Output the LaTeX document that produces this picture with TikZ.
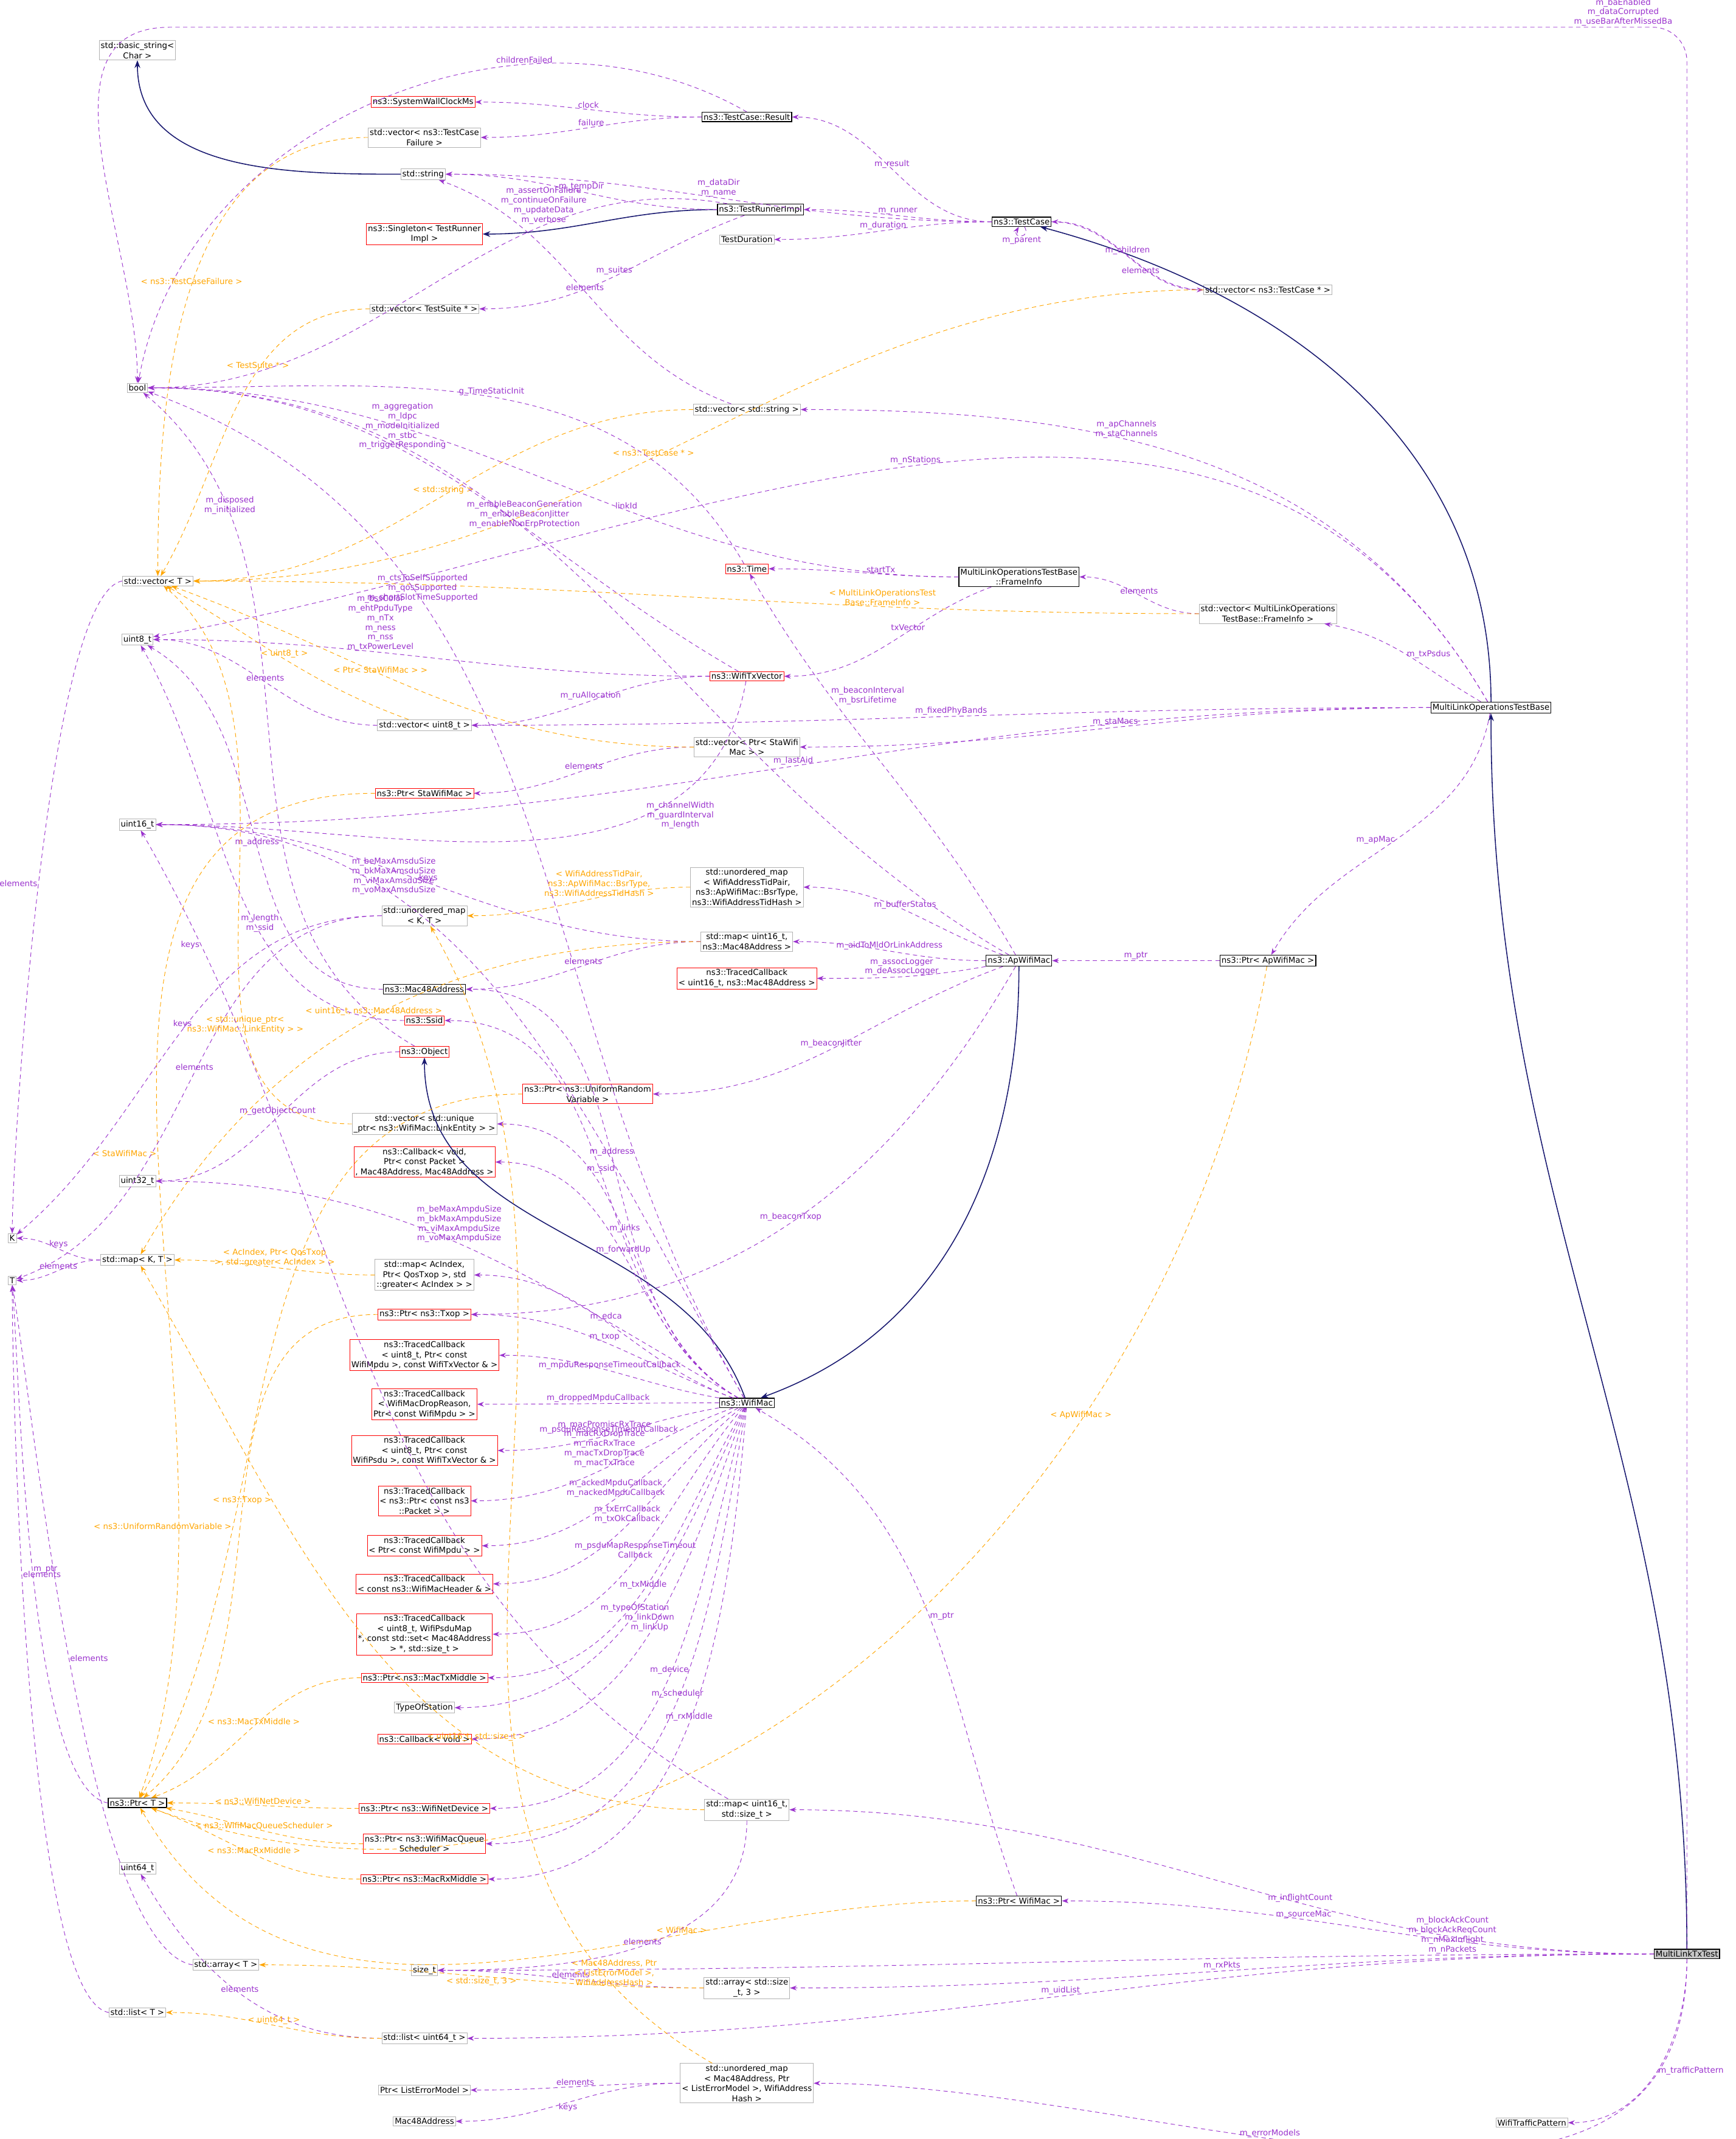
\documentclass[tikz,border=0pt]{standalone}
\usepackage{fontspec}
\setmainfont{DejaVu Sans}
\usetikzlibrary{arrows.meta}
\definecolor{mp}{HTML}{9A32CD}
\definecolor{og}{HTML}{FFA500}
\definecolor{nb}{HTML}{191970}
\begin{document}
\begin{tikzpicture}[x=0.01cm,y=-0.01cm,
 bx/.style={rectangle,draw,align=center,inner sep=0.32pt,line width=0.1pt,font=\fontsize{1.7}{2.1}\selectfont,fill=white},
 gbox/.style={bx,draw=gray!60},
 rbox/.style={bx,draw=red},
 kbox/.style={bx,draw=black,line width=0.16pt},
 lbl/.style={font=\fontsize{1.7}{2.0}\selectfont,align=center,inner sep=0.2pt},
 mem/.style={mp,line width=0.12pt,dash pattern=on 0.9pt off 0.7pt,-{Stealth[length=1.4pt,width=1pt]}},
 tmpl/.style={og,line width=0.12pt,dash pattern=on 0.9pt off 0.7pt,-{Stealth[length=1.4pt,width=1pt]}},
 inh/.style={nb,line width=0.2pt,-{Stealth[length=1.6pt,width=1.2pt]}}]
\useasboundingbox (0,0) rectangle (1276,1572);
% nodes
\node[gbox] (bstr) at (101,37) {std::basic\_string<\\ Char >};
\node[rbox] (swc) at (311,75) {ns3::SystemWallClockMs};
\node[gbox] (vtcf) at (312,101) {std::vector< ns3::TestCase\\ Failure >};
\node[kbox] (res) at (549,86) {ns3::TestCase::Result};
\node[gbox] (str) at (311,128) {std::string};
\node[kbox] (tri) at (559,154) {ns3::TestRunnerImpl};
\node[kbox] (tc) at (751,163) {ns3::TestCase};
\node[rbox] (sing) at (312,172) {ns3::Singleton< TestRunner\\ Impl >};
\node[gbox] (tdur) at (549,176) {TestDuration};
\node[gbox] (vtc) at (932,213) {std::vector< ns3::TestCase * >};
\node[gbox] (vts) at (312,227) {std::vector< TestSuite * >};
\node[gbox] (bool) at (101,285) {bool};
\node[gbox] (vstr) at (549,301) {std::vector< std::string >};
\node[gbox] (vT) at (116,427) {std::vector< T >};
\node[rbox] (time) at (549,418) {ns3::Time};
\node[kbox] (fi) at (749,424) {MultiLinkOperationsTestBase\\ ::FrameInfo};
\node[gbox] (vfi) at (932,451) {std::vector< MultiLinkOperations\\ TestBase::FrameInfo >};
\node[gbox] (u8) at (101,470) {uint8\_t};
\node[rbox] (txv) at (549,497) {ns3::WifiTxVector};
\node[gbox] (vu8) at (312,533) {std::vector< uint8\_t >};
\node[kbox] (mlo) at (1096,520) {MultiLinkOperationsTestBase};
\node[gbox] (vsta) at (549,549) {std::vector< Ptr< StaWifi\\ Mac > >};
\node[rbox] (psta) at (312,583) {ns3::Ptr< StaWifiMac >};
\node[gbox] (u16) at (101,606) {uint16\_t};
\node[gbox] (umbsr) at (549,652) {std::unordered\_map\\ < WifiAddressTidPair,\\ ns3::ApWifiMac::BsrType,\\ ns3::WifiAddressTidHash >};
\node[gbox] (umKT) at (312,673) {std::unordered\_map\\ < K, T >};
\node[gbox] (mu16m) at (549,692) {std::map< uint16\_t,\\ ns3::Mac48Address >};
\node[kbox] (ap) at (749,706) {ns3::ApWifiMac};
\node[kbox] (pap) at (932,706) {ns3::Ptr< ApWifiMac >};
\node[rbox] (tcb16) at (549,719) {ns3::TracedCallback\\ < uint16\_t, ns3::Mac48Address >};
\node[kbox] (mac) at (312,727) {ns3::Mac48Address};
\node[rbox] (ssid) at (312,750) {ns3::Ssid};
\node[rbox] (obj) at (312,773) {ns3::Object};
\node[rbox] (urv) at (432,804) {ns3::Ptr< ns3::UniformRandom\\ Variable >};
\node[gbox] (vle) at (312,826) {std::vector< std::unique\\ \_ptr< ns3::WifiMac::LinkEntity > >};
\node[rbox] (cbfu) at (312,854) {ns3::Callback< void,\\ Ptr< const Packet >\\ , Mac48Address, Mac48Address >};
\node[gbox] (u32) at (101,868) {uint32\_t};
\node[gbox] (K) at (9,910) {K};
\node[gbox] (T) at (9,941) {T};
\node[gbox] (mKT) at (101,926) {std::map< K, T >};
\node[gbox] (medca) at (312,937) {std::map< AcIndex,\\ Ptr< QosTxop >, std\\ ::greater< AcIndex > >};
\node[rbox] (ptxop) at (312,966) {ns3::Ptr< ns3::Txop >};
\node[rbox] (tc1) at (312,996) {ns3::TracedCallback\\ < uint8\_t, Ptr< const\\ WifiMpdu >, const WifiTxVector \& >};
\node[kbox] (wm) at (549,1031) {ns3::WifiMac};
\node[rbox] (tc2) at (312,1032) {ns3::TracedCallback\\ < WifiMacDropReason,\\ Ptr< const WifiMpdu > >};
\node[rbox] (tc3) at (312,1066) {ns3::TracedCallback\\ < uint8\_t, Ptr< const\\ WifiPsdu >, const WifiTxVector \& >};
\node[rbox] (tc4) at (312,1103) {ns3::TracedCallback\\ < ns3::Ptr< const ns3\\ ::Packet > >};
\node[rbox] (tc5) at (312,1136) {ns3::TracedCallback\\ < Ptr< const WifiMpdu > >};
\node[rbox] (tc6) at (312,1164) {ns3::TracedCallback\\ < const ns3::WifiMacHeader \& >};
\node[rbox] (tc7) at (312,1201) {ns3::TracedCallback\\ < uint8\_t, WifiPsduMap\\ *, const std::set< Mac48Address\\ > *, std::size\_t >};
\node[rbox] (ptxm) at (312,1233) {ns3::Ptr< ns3::MacTxMiddle >};
\node[gbox] (tos) at (312,1255) {TypeOfStation};
\node[rbox] (cbv) at (312,1278) {ns3::Callback< void >};
\node[kbox] (pT) at (101,1325) {ns3::Ptr< T >};
\node[rbox] (pdev) at (312,1329) {ns3::Ptr< ns3::WifiNetDevice >};
\node[gbox] (mu16s) at (549,1330) {std::map< uint16\_t,\\ std::size\_t >};
\node[rbox] (psch) at (312,1355) {ns3::Ptr< ns3::WifiMacQueue\\ Scheduler >};
\node[gbox] (u64) at (101,1373) {uint64\_t};
\node[rbox] (prxm) at (312,1381) {ns3::Ptr< ns3::MacRxMiddle >};
\node[kbox] (pwm) at (749,1397) {ns3::Ptr< WifiMac >};
\node[gbox] (arT) at (166,1444) {std::array< T >};
\node[gbox] (sz) at (312,1448) {size\_t};
\node[gbox] (ar3) at (549,1461) {std::array< std::size\\ \_t, 3 >};
\node[gbox] (lT) at (101,1479) {std::list< T >};
\node[gbox] (lu64) at (312,1498) {std::list< uint64\_t >};
\node[kbox,fill=gray!45] (mtx) at (1240,1436) {MultiLinkTxTest};
\node[gbox] (umerr) at (549,1531) {std::unordered\_map\\ < Mac48Address, Ptr\\ < ListErrorModel >, WifiAddress\\ Hash >};
\node[gbox] (wtp) at (1126,1560) {WifiTrafficPattern};
\node[gbox] (ple) at (312,1536) {Ptr< ListErrorModel >};
\node[gbox] (m48) at (312,1559) {Mac48Address};
% inheritance
\draw[inh] (mtx) to[out=90,in=-90] (mlo);
\draw[inh] (mlo) to[out=90,in=-15] (tc);
\draw[inh] (ap) to[out=-90,in=20] (wm);
\draw[inh] (wm) to[out=110,in=-90] (obj);
\draw[inh] (str) to[out=180,in=-90] (bstr);
\draw[inh] (tri) to[out=180,in=0] (sing);
% MultiLinkTxTest
\coordinate (topR) at (1215,20);
\coordinate (topL) at (125,20);
\coordinate (upR) at (1240,45);
\draw[mem] (mtx.north) -- (upR) to[out=90,in=0] (topR) -- node[lbl,above,pos=0.02]{m\_baEnabled\\m\_dataCorrupted\\m\_useBarAfterMissedBa} (topL) to[out=180,in=90] (bool);
\draw[mem] (mtx) to[out=180,in=0] node[lbl,above,pos=0.4]{m\_inflightCount} (mu16s);
\draw[mem] (mtx) to[out=180,in=0] node[lbl,above,pos=0.6]{m\_sourceMac} (pwm);
\draw[mem] (mtx) to[out=180,in=0] node[lbl,above,pos=0.15]{m\_blockAckCount\\m\_blockAckReqCount\\m\_nMaxInflight\\m\_nPackets} (sz);
\draw[mem] (mtx) to[out=180,in=0] node[lbl,above,pos=0.5]{m\_rxPkts} (ar3);
\draw[mem] (mtx) to[out=180,in=0] node[lbl,above,pos=0.5]{m\_uidList} (lu64);
\draw[mem] (mtx) to[out=-90,in=0] node[lbl,above,pos=0.6]{m\_errorModels} (umerr);
\draw[mem] (mtx) to[out=-90,in=0] node[lbl,right,pos=0.5]{m\_trafficPattern} (wtp);
% MLOTB
\draw[mem] (mlo) to[out=120,in=0] node[lbl,above,pos=0.6]{m\_apChannels\\m\_staChannels} (vstr);
\draw[mem] (mlo) to[out=120,in=10] node[lbl,above,pos=0.5]{m\_nStations} (u8);
\draw[mem] (mlo) to[out=150,in=-10] node[lbl,right,pos=0.5]{m\_txPsdus} (vfi);
\draw[mem] (mlo) to[out=180,in=0] node[lbl,above,pos=0.5]{m\_fixedPhyBands} (vu8);
\draw[mem] (mlo) to[out=180,in=0] node[lbl,above,pos=0.5]{m\_staMacs} (vsta);
\draw[mem] (mlo) to[out=180,in=0] node[lbl,above,pos=0.5]{m\_lastAid} (u16);
\draw[mem] (mlo) to[out=-100,in=60] node[lbl,left,pos=0.5]{m\_apMac} (pap);
% FrameInfo
\draw[mem] (fi) to[out=180,in=0] node[lbl,above,pos=0.4]{startTx} (time);
\draw[mem] (fi) to[out=200,in=0] node[lbl,above,pos=0.4]{txVector} (txv);
\draw[mem] (fi) to[out=180,in=0] node[lbl,above,pos=0.4]{linkId} (bool);
\draw[mem] (vfi) to[out=180,in=0] node[lbl,above,pos=0.5]{elements} (fi);
\draw[tmpl] (vfi) to[out=180,in=0] node[lbl,above,pos=0.3]{< MultiLinkOperationsTest\\Base::FrameInfo >} (vT);
% TestCase
\draw[mem] (tc) to[out=180,in=0] node[lbl,above,pos=0.5]{m\_result} (res);
\draw[mem] (tc) to[out=180,in=0] node[lbl,above,pos=0.5]{m\_dataDir\\m\_name} (str);
\draw[mem] (tc) to[out=-60,in=-120,looseness=6] node[lbl,below,pos=0.5]{m\_parent} (tc);
\draw[mem] (tc) to[out=180,in=0] node[lbl,above,pos=0.5]{m\_runner} (tri);
\draw[mem] (tc) to[out=180,in=0] node[lbl,above,pos=0.5]{m\_duration} (tdur);
\draw[mem] (tc) to[out=0,in=180] node[lbl,above,pos=0.5]{m\_children} (vtc);
\draw[mem] (vtc) to[out=180,in=0] node[lbl,below,pos=0.4]{elements} (tc);
\draw[tmpl] (vtc) to[out=180,in=0] node[lbl,above,pos=0.55]{< ns3::TestCase * >} (vT);
\draw[mem] (res) to[out=180,in=0] node[lbl,above,pos=0.5]{clock} (swc);
\draw[mem] (res) to[out=180,in=0] node[lbl,above,pos=0.5]{failure} (vtcf);
\draw[mem] (res.north) to[out=150,in=80] node[lbl,above,pos=0.3]{childrenFailed} (bool);
\draw[mem] (tri) to[out=180,in=0] node[lbl,above,pos=0.5]{m\_tempDir} (str);
\draw[mem] (tri) to[out=170,in=0] node[lbl,above,pos=0.3]{m\_assertOnFailure\\m\_continueOnFailure\\m\_updateData\\m\_verbose} (bool);
\draw[mem] (tri) to[out=200,in=0] node[lbl,above,pos=0.5]{m\_suites} (vts);
\draw[tmpl] (vtcf) to[out=180,in=90] node[lbl,above,pos=0.5]{< ns3::TestCaseFailure >} (vT);
\draw[tmpl] (vts) to[out=180,in=60] node[lbl,above,pos=0.4]{< TestSuite * >} (vT);
\draw[mem] (vstr) to[out=160,in=-20] node[lbl,above,pos=0.5]{elements} (str);
\draw[tmpl] (vstr) to[out=180,in=0] node[lbl,above,pos=0.5]{< std::string >} (vT);
\draw[mem] (time) to[out=120,in=0] node[lbl,above,pos=0.5]{g\_TimeStaticInit} (bool);
% WifiTxVector
\draw[mem] (txv) to[out=180,in=0] node[lbl,above,pos=0.6]{m\_bssColor\\m\_ehtPpduType\\m\_nTx\\m\_ness\\m\_nss\\m\_txPowerLevel} (u8);
\draw[mem] (txv) to[out=150,in=0] node[lbl,above,pos=0.6]{m\_aggregation\\m\_ldpc\\m\_modeInitialized\\m\_stbc\\m\_triggerResponding} (bool);
\draw[mem] (txv) to[out=180,in=0] node[lbl,above,pos=0.5]{m\_ruAllocation} (vu8);
\draw[mem] (txv) to[out=-100,in=0] node[lbl,right,pos=0.3]{m\_channelWidth\\m\_guardInterval\\m\_length} (u16);
\draw[mem] (vu8) to[out=180,in=0] node[lbl,above,pos=0.5]{elements} (u8);
\draw[tmpl] (vu8) to[out=160,in=-30] node[lbl,above,pos=0.5]{< uint8\_t >} (vT);
\draw[mem] (vsta) to[out=180,in=0] node[lbl,above,pos=0.5]{elements} (psta);
\draw[tmpl] (vsta) to[out=180,in=-20] node[lbl,above,pos=0.6]{< Ptr< StaWifiMac > >} (vT);
\draw[tmpl] (psta) to[out=180,in=70] node[lbl,left,pos=0.5]{< StaWifiMac >} (pT);
\draw[mem] (umKT) to[out=180,in=40] node[lbl,above,pos=0.5]{keys} (K);
\draw[mem] (umKT) to[out=180,in=20] node[lbl,above,pos=0.5]{elements} (T);
\draw[tmpl] (umbsr) to[out=180,in=0] node[lbl,above,pos=0.4]{< WifiAddressTidPair,\\ns3::ApWifiMac::BsrType,\\ns3::WifiAddressTidHash >} (umKT);
\draw[mem] (mu16m) to[out=180,in=0] node[lbl,above,pos=0.5]{keys} (u16);
\draw[mem] (mu16m) to[out=180,in=0] node[lbl,above,pos=0.5]{elements} (mac);
\draw[tmpl] (mu16m) to[out=180,in=60] node[lbl,above,pos=0.5]{< uint16\_t, ns3::Mac48Address >} (mKT);
% ApWifiMac
\draw[mem] (ap) to[out=150,in=0] node[lbl,above,pos=0.6]{m\_enableBeaconGeneration\\m\_enableBeaconJitter\\m\_enableNonErpProtection} (bool);
\draw[mem] (ap) to[out=120,in=-60] node[lbl,right,pos=0.7]{m\_beaconInterval\\m\_bsrLifetime} (time);
\draw[mem] (ap) to[out=160,in=0] node[lbl,above,pos=0.5]{m\_bufferStatus} (umbsr);
\draw[mem] (ap) to[out=180,in=0] node[lbl,above,pos=0.5]{m\_aidToMldOrLinkAddress} (mu16m);
\draw[mem] (ap) to[out=190,in=0] node[lbl,above,pos=0.5]{m\_assocLogger\\m\_deAssocLogger} (tcb16);
\draw[mem] (ap) to[out=200,in=0] node[lbl,above,pos=0.5]{m\_beaconJitter} (urv);
\draw[mem] (ap) to[out=-120,in=0] node[lbl,above,pos=0.5]{m\_beaconTxop} (ptxop);
\draw[mem] (pap) to[out=180,in=0] node[lbl,above,pos=0.5]{m\_ptr} (ap);
\draw[tmpl] (pap) to[out=-100,in=-20] node[lbl,above,pos=0.3]{< ApWifiMac >} (pT);
\draw[mem] (mac) to[out=180,in=-30] node[lbl,above,pos=0.5]{m\_address} (u8);
\draw[mem] (ssid) to[out=180,in=-60] node[lbl,above,pos=0.4]{m\_length\\m\_ssid} (u8);
\draw[mem] (obj) to[out=180,in=0] node[lbl,above,pos=0.5]{m\_getObjectCount} (u32);
\draw[mem] (obj) to[out=150,in=-40] node[lbl,above,pos=0.8]{m\_disposed\\m\_initialized} (bool);
% WifiMac
\draw[mem] (wm) to[out=150,in=0] node[lbl,above,pos=0.5]{m\_address} (mac);
\draw[mem] (wm) to[out=150,in=0] node[lbl,above,pos=0.5]{m\_ssid} (ssid);
\draw[mem] (wm) to[out=150,in=0] node[lbl,above,pos=0.5]{m\_links} (vle);
\draw[mem] (wm) to[out=150,in=0] node[lbl,above,pos=0.5]{m\_forwardUp} (cbfu);
\draw[mem] (wm) to[out=120,in=0] node[lbl,above,pos=0.7]{m\_beMaxAmsduSize\\m\_bkMaxAmsduSize\\m\_viMaxAmsduSize\\m\_voMaxAmsduSize} (u16);
\draw[mem] (wm) to[out=150,in=0] node[lbl,above,pos=0.5]{m\_beMaxAmpduSize\\m\_bkMaxAmpduSize\\m\_viMaxAmpduSize\\m\_voMaxAmpduSize} (u32);
\draw[mem] (wm) to[out=120,in=-20] node[lbl,above,pos=0.7]{m\_ctsToSelfSupported\\m\_qosSupported\\m\_shortSlotTimeSupported} (bool);
\draw[mem] (wm) to[out=160,in=0] node[lbl,above,pos=0.5]{m\_edca} (medca);
\draw[mem] (wm) to[out=160,in=0] node[lbl,above,pos=0.5]{m\_txop} (ptxop);
\draw[mem] (wm) to[out=170,in=0] node[lbl,above,pos=0.5]{m\_mpduResponseTimeoutCallback} (tc1);
\draw[mem] (wm) to[out=180,in=0] node[lbl,above,pos=0.5]{m\_droppedMpduCallback} (tc2);
\draw[mem] (wm) to[out=190,in=0] node[lbl,above,pos=0.5]{m\_psduResponseTimeoutCallback} (tc3);
\draw[mem] (wm) to[out=200,in=0] node[lbl,above,pos=0.5]{m\_macPromiscRxTrace\\m\_macRxDropTrace\\m\_macRxTrace\\m\_macTxDropTrace\\m\_macTxTrace} (tc4);
\draw[mem] (wm) to[out=210,in=0] node[lbl,above,pos=0.5]{m\_ackedMpduCallback\\m\_nackedMpduCallback} (tc5);
\draw[mem] (wm) to[out=220,in=0] node[lbl,above,pos=0.5]{m\_txErrCallback\\m\_txOkCallback} (tc6);
\draw[mem] (wm) to[out=230,in=0] node[lbl,above,pos=0.5]{m\_psduMapResponseTimeout\\Callback} (tc7);
\draw[mem] (wm) to[out=240,in=0] node[lbl,above,pos=0.5]{m\_txMiddle} (ptxm);
\draw[mem] (wm) to[out=245,in=0] node[lbl,above,pos=0.5]{m\_typeOfStation} (tos);
\draw[mem] (wm) to[out=250,in=0] node[lbl,above,pos=0.5]{m\_linkDown\\m\_linkUp} (cbv);
\draw[mem] (wm) to[out=255,in=0] node[lbl,above,pos=0.5]{m\_device} (pdev);
\draw[mem] (wm) to[out=260,in=0] node[lbl,above,pos=0.5]{m\_scheduler} (psch);
\draw[mem] (wm) to[out=265,in=0] node[lbl,above,pos=0.5]{m\_rxMiddle} (prxm);
\draw[mem] (pwm) to[out=110,in=-30] node[lbl,right,pos=0.5]{m\_ptr} (wm);
\draw[tmpl] (pwm) to[out=180,in=-60] node[lbl,above,pos=0.3]{< WifiMac >} (pT);
\draw[tmpl] (vle) to[out=180,in=-40] node[lbl,above,pos=0.3]{< std::unique\_ptr<\\ns3::WifiMac::LinkEntity > >} (vT);
\draw[tmpl] (medca) to[out=180,in=0] node[lbl,above,pos=0.5]{< AcIndex, Ptr< QosTxop\\>, std::greater< AcIndex > >} (mKT);
\draw[tmpl] (ptxop) to[out=180,in=40] node[lbl,above,pos=0.5]{< ns3::Txop >} (pT);
\draw[tmpl] (urv) to[out=180,in=60] node[lbl,left,pos=0.7]{< ns3::UniformRandomVariable >} (pT);
\draw[tmpl] (ptxm) to[out=180,in=20] node[lbl,above,pos=0.5]{< ns3::MacTxMiddle >} (pT);
\draw[tmpl] (pdev) to[out=180,in=0] node[lbl,above,pos=0.5]{< ns3::WifiNetDevice >} (pT);
\draw[tmpl] (psch) to[out=180,in=-10] node[lbl,above,pos=0.5]{< ns3::WifiMacQueueScheduler >} (pT);
\draw[tmpl] (prxm) to[out=180,in=-20] node[lbl,above,pos=0.5]{< ns3::MacRxMiddle >} (pT);
% containers
\draw[mem] (mu16s) to[out=150,in=-60] node[lbl,left,pos=0.9]{keys} (u16);
\draw[mem] (mu16s) to[out=-90,in=0] node[lbl,above,pos=0.5]{elements} (sz);
\draw[tmpl] (mu16s) to[out=180,in=-60] node[lbl,above,pos=0.3]{< uint16\_t, std::size\_t >} (mKT);
\draw[mem] (ar3) to[out=180,in=0] node[lbl,above,pos=0.5]{elements} (sz);
\draw[tmpl] (ar3) to[out=180,in=0] node[lbl,below,pos=0.5]{< std::size\_t, 3 >} (arT);
\draw[mem] (lu64) to[out=180,in=-60] node[lbl,above,pos=0.5]{elements} (u64);
\draw[tmpl] (lu64) to[out=180,in=0] node[lbl,above,pos=0.5]{< uint64\_t >} (lT);
\draw[mem] (umerr) to[out=180,in=0] node[lbl,above,pos=0.5]{elements} (ple);
\draw[mem] (umerr) to[out=180,in=0] node[lbl,below,pos=0.5]{keys} (m48);
\draw[tmpl] (umerr) to[out=150,in=-60] node[lbl,above,pos=0.1]{< Mac48Address, Ptr\\< ListErrorModel >,\\WifiAddressHash >} (umKT);
\draw[mem] (mKT) to[out=180,in=0] node[lbl,above,pos=0.5]{keys} (K);
\draw[mem] (mKT) to[out=180,in=0] node[lbl,above,pos=0.5]{elements} (T);
\draw[mem] (vT.west) to[out=190,in=90,looseness=0.3] node[lbl,left,pos=0.5]{elements} (K.north);
\draw[mem] (pT.west) to[out=170,in=-85,looseness=0.4] node[lbl,right,pos=0.5]{m\_ptr} (T.south);
\draw[mem] (arT.west) to[out=170,in=-80,looseness=0.4] node[lbl,right,pos=0.5]{elements} (T.south);
\draw[mem] (lT.west) to[out=170,in=-90,looseness=0.3] node[lbl,right,pos=0.6]{elements} (T.south);
\end{tikzpicture}
\end{document}
